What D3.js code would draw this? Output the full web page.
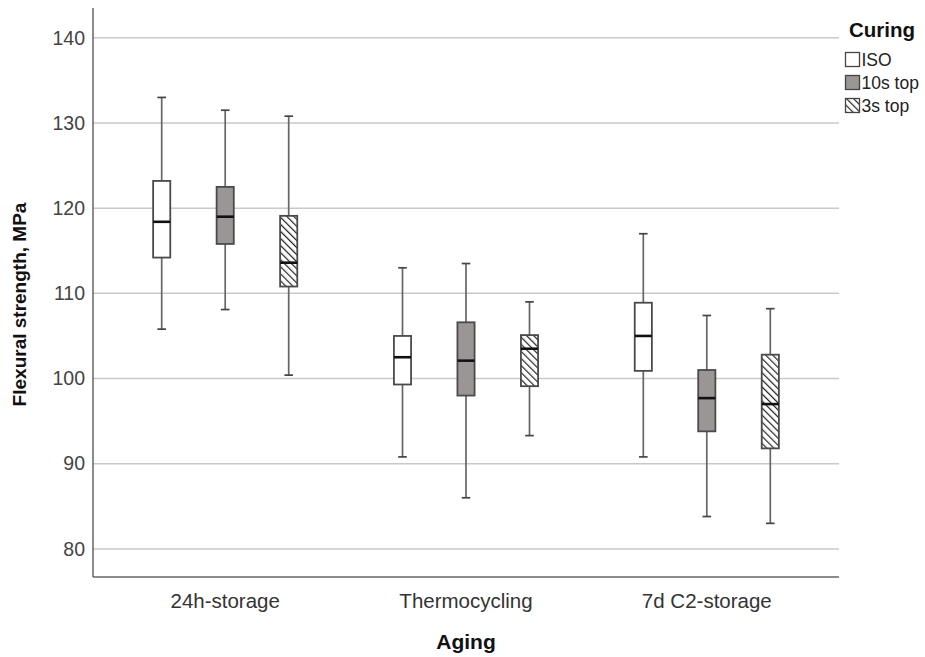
<!DOCTYPE html>
<html>
<head>
<meta charset="utf-8">
<script src="https://cdn.jsdelivr.net/npm/d3@7"></script>
<style>
  html, body { margin: 0; padding: 0; background: #fff; }
  svg { display: block; font-family: "Liberation Sans", Arial, sans-serif; }
</style>
</head>
<body>
<svg id="chart" width="925" height="657"></svg>
<script>
// Aging conditions on the x axis, curing modes as grouped boxes
const agingGroups = ["24h-storage", "Thermocycling", "7d C2-storage"];
const curingModes = ["ISO", "10s top", "3s top"];
const yTicks = [80, 90, 100, 110, 120, 130, 140];

// Five-number summaries [min, q1, median, q3, max] per curing mode, in aging order
const isoStats  = [[105.8, 114.2, 118.4, 123.2, 133.0], [90.8, 99.3, 102.5, 105.0, 113.0], [90.8, 100.9, 105.0, 108.9, 117.0]];
const top10Stats = [[108.1, 115.8, 119.0, 122.5, 131.5], [86.0, 98.0, 102.1, 106.6, 113.5], [83.8, 93.8, 97.7, 101.0, 107.4]];
const top3Stats  = [[100.4, 110.8, 113.6, 119.1, 130.8], [93.3, 99.1, 103.5, 105.1, 109.0], [83.0, 91.8, 97.0, 102.8, 108.2]];

const statsByMode = { "ISO": isoStats, "10s top": top10Stats, "3s top": top3Stats };

const boxes = [];
agingGroups.forEach((g, gi) => {
  curingModes.forEach(m => {
    const s = statsByMode[m][gi];
    boxes.push({ group: g, mode: m, min: s[0], q1: s[1], median: s[2], q3: s[3], max: s[4] });
  });
});

const svg = d3.select("#chart");
const plot = { left: 93, right: 839, top: 8, bottom: 577 };

const x = d3.scaleBand().domain(agingGroups).range([plot.left, plot.right]).paddingOuter(0.049).paddingInner(0);
const xInner = d3.scaleBand().domain(curingModes).range([-95.25, 95.25]).paddingInner(0.73).paddingOuter(0.365);
const y = d3.scaleLinear().domain([76.7, 143.5]).range([plot.bottom, plot.top]);

// Hatch pattern for the "3s top" boxes (lines running down to the right)
const defs = svg.append("defs");
const pat = defs.append("pattern")
  .attr("id", "hatch")
  .attr("patternUnits", "userSpaceOnUse")
  .attr("width", 5).attr("height", 5)
  .attr("patternTransform", "rotate(-45)");
pat.append("rect").attr("width", 5).attr("height", 5).attr("fill", "#fff");
pat.append("line").attr("x1", 0).attr("y1", 0).attr("x2", 0).attr("y2", 5)
  .attr("stroke", "#222").attr("stroke-width", 2.4);

const fillFor = m => m === "ISO" ? "#ffffff" : m === "10s top" ? "#9b9696" : "url(#hatch)";

// Horizontal grid lines
svg.append("g")
  .selectAll("line")
  .data(yTicks)
  .join("line")
  .attr("x1", plot.left).attr("x2", plot.right)
  .attr("y1", d => y(d)).attr("y2", d => y(d))
  .attr("stroke", "#c9c9c9").attr("stroke-width", 1.5);

// Y axis
const yAxis = svg.append("g")
  .attr("transform", `translate(${plot.left},0)`)
  .call(d3.axisLeft(y).tickValues(yTicks).tickSize(0).tickPadding(8));
yAxis.select(".domain").remove();
yAxis.selectAll("text").attr("font-size", 19.5).attr("fill", "#444").attr("font-family", "Liberation Sans, Arial, sans-serif");

// X axis
const xAxis = svg.append("g")
  .attr("transform", `translate(0,${plot.bottom})`)
  .call(d3.axisBottom(x).tickSize(0).tickPadding(16));
xAxis.select(".domain").remove();
xAxis.selectAll("text").attr("font-size", 20.5).attr("fill", "#333").attr("font-family", "Liberation Sans, Arial, sans-serif");

// Axis frame lines
svg.append("line").attr("x1", plot.left).attr("x2", plot.left).attr("y1", plot.top).attr("y2", plot.bottom)
  .attr("stroke", "#666").attr("stroke-width", 1.5);
svg.append("line").attr("x1", plot.left).attr("x2", plot.right).attr("y1", plot.bottom).attr("y2", plot.bottom)
  .attr("stroke", "#666").attr("stroke-width", 1.5);

// Boxplots
const bw = xInner.bandwidth();
const capW = bw * 0.5;
const bg = svg.append("g")
  .selectAll("g")
  .data(boxes)
  .join("g")
  .attr("transform", d => `translate(${x(d.group) + x.bandwidth() / 2 + xInner(d.mode) + bw / 2},0)`);

bg.append("line").attr("x1", 0).attr("x2", 0)
  .attr("y1", d => y(d.max)).attr("y2", d => y(d.min))
  .attr("stroke", "#666").attr("stroke-width", 1.7);
bg.append("line").attr("x1", -capW / 2).attr("x2", capW / 2)
  .attr("y1", d => y(d.max)).attr("y2", d => y(d.max))
  .attr("stroke", "#444").attr("stroke-width", 1.7);
bg.append("line").attr("x1", -capW / 2).attr("x2", capW / 2)
  .attr("y1", d => y(d.min)).attr("y2", d => y(d.min))
  .attr("stroke", "#444").attr("stroke-width", 1.7);
bg.append("rect")
  .attr("x", -bw / 2).attr("width", bw)
  .attr("y", d => y(d.q3)).attr("height", d => y(d.q1) - y(d.q3))
  .attr("fill", d => fillFor(d.mode))
  .attr("stroke", "#4a4a4a").attr("stroke-width", 1.8);
bg.append("line").attr("x1", -bw / 2).attr("x2", bw / 2)
  .attr("y1", d => y(d.median)).attr("y2", d => y(d.median))
  .attr("stroke", "#111").attr("stroke-width", 2.6);

// Axis titles
svg.append("text")
  .attr("x", x("Thermocycling") + x.bandwidth() / 2).attr("y", 649)
  .attr("text-anchor", "middle").attr("font-size", 21).attr("font-weight", "bold").attr("fill", "#111")
  .text("Aging");
svg.append("text")
  .attr("transform", `translate(26,${(plot.top + plot.bottom) / 2 + 12}) rotate(-90)`)
  .attr("text-anchor", "middle").attr("font-size", 19).attr("font-weight", "bold").attr("fill", "#111")
  .text("Flexural strength, MPa");

// Legend
const legend = svg.append("g").attr("transform", "translate(845,0)");
legend.append("text").attr("x", 4).attr("y", 37)
  .attr("font-size", 20.5).attr("font-weight", "bold").attr("fill", "#111").text("Curing");
const li = legend.selectAll("g.item")
  .data(curingModes)
  .join("g")
  .attr("class", "item")
  .attr("transform", (d, i) => `translate(0,${52 + i * 23})`);
li.append("rect").attr("x", 0.5).attr("y", 0.5).attr("width", 14).attr("height", 14)
  .attr("fill", d => fillFor(d)).attr("stroke", "#444").attr("stroke-width", 1.3);
li.append("text").attr("x", 16.5).attr("y", 14)
  .attr("font-size", 17.5).attr("fill", "#222").text(d => d);
</script>
</body>
</html>
